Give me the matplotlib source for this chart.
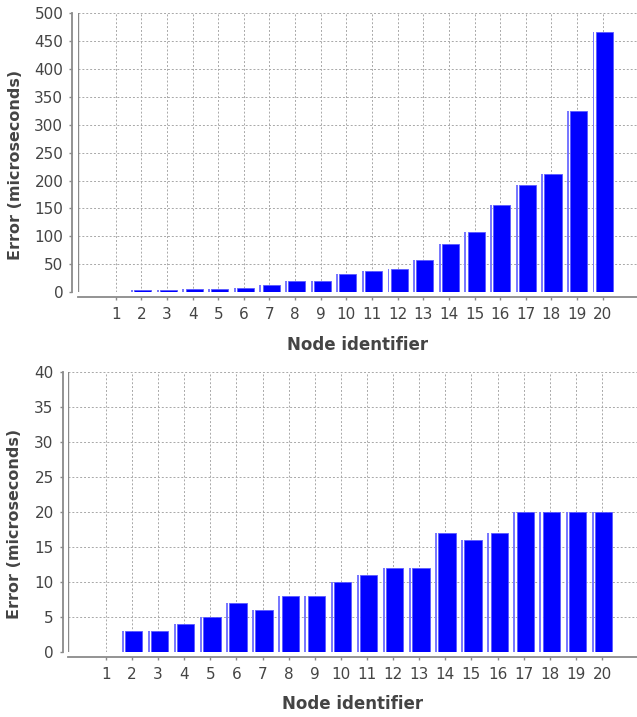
"""Per-node error bars, two panels (JFreeChart-like look)."""

import numpy as np
import matplotlib

matplotlib.use("Agg")
import matplotlib.pyplot as plt

nodes = np.arange(1, 21)
error_top = [0, 3, 4, 6, 6, 8, 12, 20, 20, 32, 38, 42, 58, 87, 108, 156, 192, 212, 324, 466]
error_bottom = [0, 3, 3, 4, 5, 7, 6, 8, 8, 10, 11, 12, 12, 17, 16, 17, 20, 20, 20, 20]

y_label = "Error (microseconds)"
x_label = "Node identifier"

TEXT = "#444444"
AXIS = "#8a8a8a"
GRID = "#a8a8a8"


def draw_panel(ax, values, ymax, ystep, left_offset_px):
    values = np.asarray(values, dtype=float)
    # light highlight strip on the left, then the solid body
    ax.bar(nodes - 0.395, values, width=0.075, align="edge",
           color="#7878ff", linewidth=0, zorder=3)
    ax.bar(nodes - 0.27, values, width=0.665, align="edge",
           color="#0000ff", edgecolor="#5a5aff", linewidth=0.6, zorder=3)

    ax.set_xlim(-0.46, 21.34)
    ax.set_ylim(0, ymax)
    ax.set_xticks(nodes)
    ax.set_yticks(np.arange(0, ymax + ystep, ystep))

    ax.grid(True, color=GRID, linestyle=(0, (2, 2)), linewidth=0.7, zorder=0)
    ax.set_axisbelow(True)
    ax.axvline(-0.46, color=AXIS, linewidth=1.0, zorder=4)

    for side in ("top", "right"):
        ax.spines[side].set_visible(False)
    ax.spines["left"].set_position(("outward", left_offset_px * 0.72))
    ax.spines["bottom"].set_position(("outward", 4.7 * 0.72))
    for side in ("left", "bottom"):
        ax.spines[side].set_color(AXIS)
        ax.spines[side].set_linewidth(1.3)

    ax.tick_params(axis="both", colors=AXIS, labelcolor=TEXT, labelsize=11,
                   length=2.5, width=1.0)
    ax.tick_params(axis="x", pad=5.0)
    ax.tick_params(axis="y", pad=4.0)

    ax.set_ylabel(y_label, fontsize=11.5, fontweight="bold", color=TEXT)
    ax.set_xlabel(x_label, fontsize=12, fontweight="bold", color=TEXT)
    ax.xaxis.label.set_va("center")
    ax.yaxis.label.set_va("center")


fig = plt.figure(figsize=(6.37, 7.17), dpi=100)
ax_top = fig.add_axes([0.1229, 0.5927, 0.8771, 0.3887])
ax_bot = fig.add_axes([0.1063, 0.0907, 0.8937, 0.3901])

draw_panel(ax_top, error_top, 500, 50, 6.0)
draw_panel(ax_bot, error_bottom, 40, 5, 5.0)

ax_top.yaxis.set_label_coords(-0.1115, 0.455)
ax_top.xaxis.set_label_coords(0.5, -0.19)
ax_bot.yaxis.set_label_coords(-0.0926, 0.457)
ax_bot.xaxis.set_label_coords(0.5, -0.186)

fig.savefig("out.png", dpi=100)
plt.close(fig)
